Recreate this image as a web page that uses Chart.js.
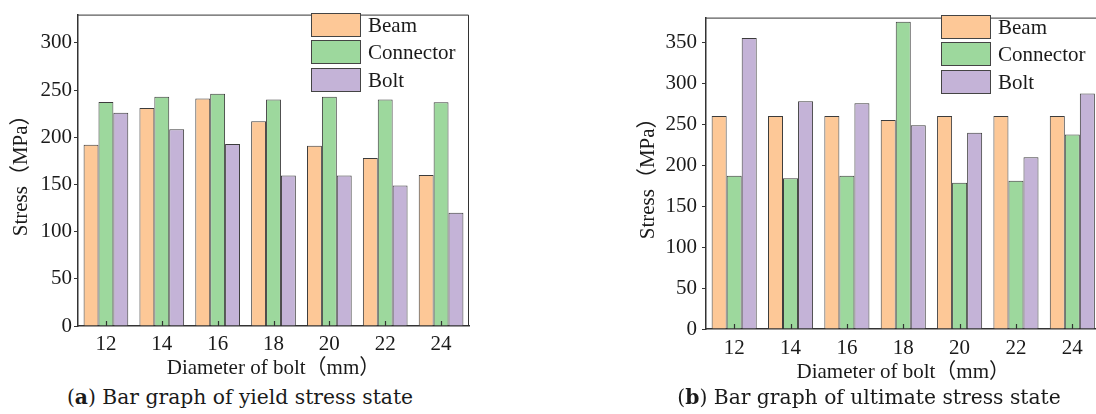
<!DOCTYPE html>
<html>
<head>
<meta charset="utf-8">
<script src="https://cdn.jsdelivr.net/npm/chart.js@4.4.0/dist/chart.umd.min.js"></script>
<style>
  html, body { margin: 0; padding: 0; background: #fff; width: 1096px; height: 414px; overflow: hidden; }
  .panel { position: absolute; }
  .cap { position: absolute; width: 400px; font-family: 'DejaVu Serif'; font-size: 20.3px; line-height: 24px; color: #1a1a1a; text-align: center; white-space: nowrap; }
  .legend { position: absolute; font-family: 'Liberation Serif'; font-size: 21px; color: #1a1a1a; }
  .legend .row { height: 27.3px; display: flex; align-items: flex-start; }
  .legend .box { width: 50px; height: 24px; box-sizing: border-box; border: 1px solid #444; margin-right: 7px; }
  .legend .lbl { line-height: 24px; }
</style>
</head>
<body>
<div class="panel" style="left:0;top:0;width:480px;height:385px"><canvas id="chartA" width="480" height="385"></canvas></div>
<div class="panel" style="left:620px;top:0;width:500px;height:390px"><canvas id="chartB" width="500" height="390"></canvas></div>
<div class="legend" id="legendA" style="left:311px;top:13px"></div>
<div class="legend" id="legendB" style="left:941px;top:15px"></div>
<div class="cap" style="left:40px;top:385px">(<b>a</b>) Bar graph of yield stress state</div>
<div class="cap" style="left:669px;top:385px">(<b>b</b>) Bar graph of ultimate stress state</div>
<script>
// Data
const diameters = ['12', '14', '16', '18', '20', '22', '24'];
const seriesNames = ['Beam', 'Connector', 'Bolt'];
const seriesColors = ['#fdc897', '#9dd89d', '#c4b3d7'];

// (a) yield stress state
const yieldBeam = [192, 231, 241, 217, 191, 178, 160];
const yieldConnector = [237.5, 243, 246, 240, 243, 240, 237];
const yieldBolt = [226, 208.5, 193, 159.5, 159.5, 149, 120];

// (b) ultimate stress state
const ultBeam = [260, 260, 260, 255, 260, 260, 260];
const ultConnector = [187, 184, 187, 375, 178.5, 181, 237.5];
const ultBolt = [355, 278, 275.5, 248.5, 239.5, 209.5, 287.5];

const yTicksA = [0, 50, 100, 150, 200, 250, 300];
const yTicksB = [0, 50, 100, 150, 200, 250, 300, 350];

const serif = "'Liberation Serif', 'Noto Sans CJK SC', serif";
Chart.defaults.font.family = serif;
Chart.defaults.color = '#1a1a1a';

// frame on top/right of plot, and small inward ticks on the x axis
const framePlugin = {
  id: 'frame',
  afterDatasetsDraw(chart) {
    const { ctx, chartArea: a, scales: { x } } = chart;
    ctx.save();
    ctx.strokeStyle = '#333';
    ctx.lineWidth = 1;
    ctx.beginPath();
    ctx.moveTo(a.left, a.top + 0.5);
    ctx.lineTo(a.right - 0.5, a.top + 0.5);
    ctx.lineTo(a.right - 0.5, a.bottom);
    ctx.stroke();
    ctx.lineWidth = 1.2;
    ctx.beginPath();
    x.ticks.forEach((t, i) => {
      const px = Math.round(x.getPixelForTick(i)) + 0.5;
      ctx.moveTo(px, a.bottom);
      ctx.lineTo(px, a.bottom - 5);
    });
    ctx.stroke();
    ctx.restore();
  }
};

function makeChart(id, series, yMax, yTicks, o) {
  return new Chart(document.getElementById(id), {
    type: 'bar',
    data: {
      labels: diameters,
      datasets: series.map((vals, i) => ({
        label: seriesNames[i],
        data: vals,
        backgroundColor: seriesColors[i],
        borderColor: '#3c3c3c',
        borderWidth: 1,
        categoryPercentage: 0.8,
        barPercentage: 1.0
      }))
    },
    options: {
      responsive: false,
      animation: false,
      layout: { padding: { top: o.top, right: o.right, left: 0, bottom: 0 } },
      plugins: { legend: { display: false }, tooltip: { enabled: false } },
      scales: {
        x: {
          z: 1,
          grid: { display: false, drawTicks: false },
          border: { display: true, color: '#333', width: 1.5 },
          ticks: { font: { size: 21 }, padding: o.xPad, color: '#1a1a1a' },
          title: { display: true, text: 'Diameter of bolt（mm）', font: { size: 21 }, padding: { top: 0, bottom: o.xTitlePad }, color: '#1a1a1a' },
          afterFit: (s) => { s.height = o.xH; }
        },
        y: {
          z: 1,
          min: 0,
          max: yMax,
          afterBuildTicks: (s) => { s.ticks = yTicks.map(v => ({ value: v })); },
          grid: { display: true, drawOnChartArea: false, drawTicks: true, tickLength: 4, color: '#333' },
          border: { display: true, color: '#333', width: 1.5 },
          ticks: { font: { size: 21 }, padding: o.yPad, color: '#1a1a1a' },
          title: { display: true, text: 'Stress（MPa）', font: { size: 21 }, padding: { top: o.yTitlePad, bottom: 0 }, color: '#1a1a1a' },
          afterFit: (s) => { s.width = o.yW; }
        }
      }
    },
    plugins: [framePlugin]
  });
}

makeChart('chartA', [yieldBeam, yieldConnector, yieldBolt], 330, yTicksA,
  { top: 12, right: 11, xPad: 6, xH: 59, xTitlePad: 4, yPad: 2, yW: 78, yTitlePad: 9 });
makeChart('chartB', [ultBeam, ultConnector, ultBolt], 380, yTicksB,
  { top: 12, right: 19.5, xPad: 7, xH: 61, xTitlePad: 5, yPad: 5, yW: 86, yTitlePad: 16 });

function buildLegend(id) {
  const el = document.getElementById(id);
  seriesNames.forEach((name, i) => {
    const row = document.createElement('div');
    row.className = 'row';
    row.innerHTML = '<span class="box" style="background:' + seriesColors[i] + '"></span><span class="lbl">' + name + '</span>';
    el.appendChild(row);
  });
}
buildLegend('legendA');
buildLegend('legendB');
</script>
</body>
</html>
